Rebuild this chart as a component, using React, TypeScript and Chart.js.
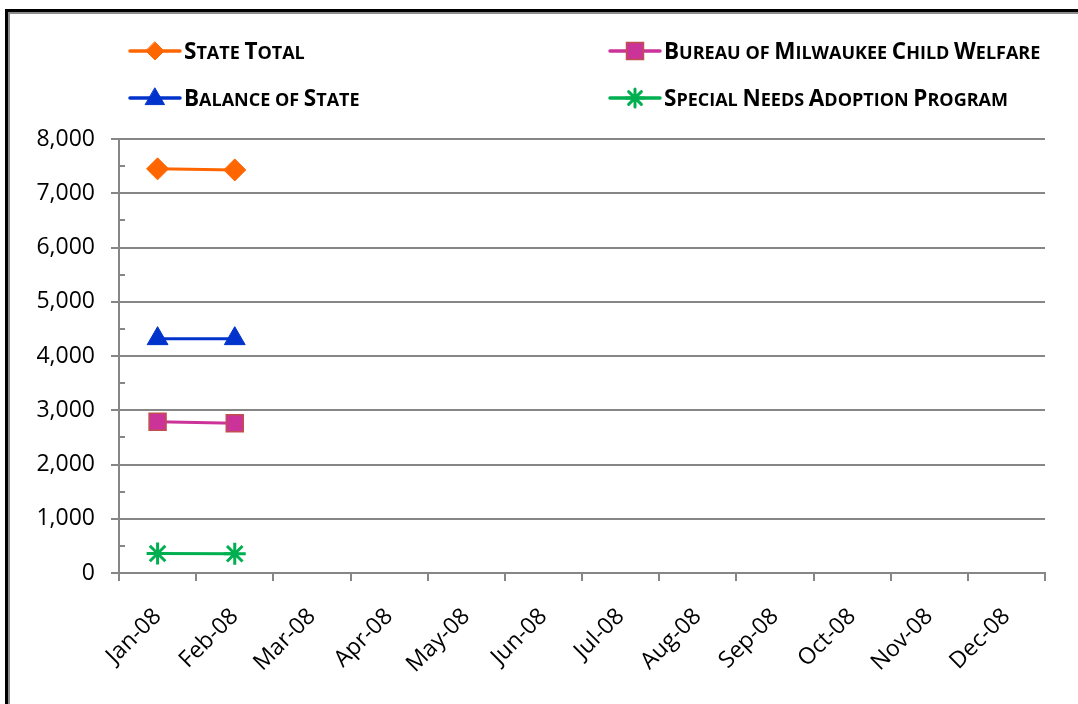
import React, { useEffect, useRef } from 'react';
import { Chart, registerables } from 'chart.js';

Chart.register(...registerables);

const months = ['Jan-08', 'Feb-08', 'Mar-08', 'Apr-08', 'May-08', 'Jun-08', 'Jul-08', 'Aug-08', 'Sep-08', 'Oct-08', 'Nov-08', 'Dec-08'];
const stateTotal = [7450, 7430];
const bureauMilwaukee = [2790, 2760];
const balanceOfState = [4320, 4320];
const specialNeeds = [360, 355];
const seriesNames = ['State Total', 'Bureau of Milwaukee Child Welfare', 'Balance of State', 'Special Needs Adoption Program'];
const yMin = 0;
const yMax = 8000;
const yStep = 1000;
const yMinorStep = 500;

const FONT = '"Open Sans", Lato, sans-serif';
const GRAY = '#868686';

type MarkerSpec = { style: string; radius: number; legendRadius: number; fill: string; stroke: string; borderWidth: number; line: string };

const markers: MarkerSpec[] = [
  { style: 'rectRot', radius: 11, legendRadius: 9, fill: '#FF6600', stroke: '#FF6600', borderWidth: 1, line: '#FF6600' },
  { style: 'rect', radius: 12, legendRadius: 12, fill: '#CC3399', stroke: '#C0504D', borderWidth: 1.5, line: '#CC3399' },
  { style: 'triangle', radius: 12, legendRadius: 11, fill: '#0033CC', stroke: '#0033CC', borderWidth: 1, line: '#0033CC' },
  { style: 'star', radius: 11, legendRadius: 9, fill: '#00B050', stroke: '#00B050', borderWidth: 3, line: '#00B050' },
];

function drawMarker(ctx: CanvasRenderingContext2D, m: MarkerSpec, x: number, y: number, r: number) {
  ctx.save();
  ctx.fillStyle = m.fill;
  ctx.strokeStyle = m.stroke;
  ctx.lineWidth = m.borderWidth;
  ctx.beginPath();
  if (m.style === 'rectRot') {
    ctx.moveTo(x, y - r);
    ctx.lineTo(x + r, y);
    ctx.lineTo(x, y + r);
    ctx.lineTo(x - r, y);
    ctx.closePath();
    ctx.fill();
    ctx.stroke();
  } else if (m.style === 'rect') {
    const h = Math.SQRT1_2 * r;
    ctx.rect(x - h, y - h, 2 * h, 2 * h);
    ctx.fill();
    ctx.stroke();
  } else if (m.style === 'triangle') {
    const w = r * Math.sqrt(3) / 2;
    ctx.moveTo(x, y - r * 0.9);
    ctx.lineTo(x + w, y + r * 0.6);
    ctx.lineTo(x - w, y + r * 0.6);
    ctx.closePath();
    ctx.fill();
    ctx.stroke();
  } else {
    const d = Math.SQRT1_2 * r;
    ctx.moveTo(x, y - r); ctx.lineTo(x, y + r);
    ctx.moveTo(x - r, y); ctx.lineTo(x + r, y);
    ctx.moveTo(x - d, y - d); ctx.lineTo(x + d, y + d);
    ctx.moveTo(x - d, y + d); ctx.lineTo(x + d, y - d);
    ctx.stroke();
  }
  ctx.restore();
}

// Small caps: letters that are capitals in the source are drawn large, the rest as smaller capitals
function drawSmallCaps(ctx: CanvasRenderingContext2D, text: string, x: number, y: number, big: number, small: number) {
  let cx = x;
  for (let k = 0; k < text.length; k++) {
    const ch = text[k];
    if (ch === ' ') {
      ctx.font = `bold ${big}px ${FONT}`;
      cx += ctx.measureText(' ').width * 0.8;
      continue;
    }
    const isBig = ch === ch.toUpperCase() && ch !== ch.toLowerCase();
    ctx.font = `bold ${isBig ? big : small}px ${FONT}`;
    const up = ch.toUpperCase();
    ctx.fillText(up, cx, y);
    cx += ctx.measureText(up).width;
  }
}

const legendCols = [130, 610];
const legendRows = [51, 98];

const framePlugin = {
  id: 'frame',
  beforeDraw(chart: any) {
    const ctx = chart.ctx as CanvasRenderingContext2D;
    const w = chart.width, h = chart.height;
    ctx.save();
    ctx.fillStyle = '#ffffff';
    ctx.fillRect(0, 0, w, h);
    ctx.fillStyle = '#000000';
    ctx.fillRect(5, 9, 3, h - 9);
    ctx.fillRect(5, 9, w - 5, 3);
    ctx.fillStyle = '#8c8c8c';
    ctx.fillRect(8, 12, 2, h - 12);
    ctx.fillRect(8, 12, w - 8, 2);
    ctx.restore();
  },
};

const minorTicksPlugin = {
  id: 'minorTicks',
  afterDatasetsDraw(chart: any) {
    const ctx = chart.ctx as CanvasRenderingContext2D;
    const ys = chart.scales.y;
    const left = chart.chartArea.left;
    ctx.save();
    ctx.strokeStyle = GRAY;
    ctx.lineWidth = 2;
    for (let v = yMin + yMinorStep; v < yMax; v += yStep) {
      const py = Math.round(ys.getPixelForValue(v));
      ctx.beginPath();
      ctx.moveTo(left, py);
      ctx.lineTo(left + 6, py);
      ctx.stroke();
    }
    ctx.restore();
  },
};

const legendPlugin = {
  id: 'customLegend',
  afterDraw(chart: any) {
    const ctx = chart.ctx as CanvasRenderingContext2D;
    ctx.save();
    chart.data.datasets.forEach((ds: any, i: number) => {
      const m = markers[i];
      const x0 = legendCols[i % 2];
      const y = legendRows[Math.floor(i / 2)];
      ctx.strokeStyle = m.line;
      ctx.lineWidth = 3.5;
      ctx.lineCap = 'round';
      ctx.beginPath();
      ctx.moveTo(x0, y);
      ctx.lineTo(x0 + 50, y);
      ctx.stroke();
      drawMarker(ctx, m, x0 + 25, y, m.legendRadius);
      ctx.fillStyle = '#000000';
      ctx.textAlign = 'left';
      ctx.textBaseline = 'alphabetic';
      drawSmallCaps(ctx, ds.label, x0 + 54, y + 8, 22.5, 18);
    });
    ctx.restore();
  },
};

export default function App() {
  const ref = useRef<HTMLCanvasElement | null>(null);
  useEffect(() => {
    if (!ref.current) return;
    const seriesData = [stateTotal, bureauMilwaukee, balanceOfState, specialNeeds];
    const chart = new Chart(ref.current, {
      type: 'line',
      data: {
        labels: months,
        datasets: seriesData.map((d, i) => ({
          label: seriesNames[i],
          data: d,
          borderColor: markers[i].line,
          backgroundColor: markers[i].fill,
          borderWidth: 3,
          pointStyle: markers[i].style as any,
          pointRadius: markers[i].radius,
          pointBackgroundColor: markers[i].fill,
          pointBorderColor: markers[i].stroke,
          pointBorderWidth: markers[i].borderWidth,
          tension: 0,
          fill: false,
        })),
      },
      options: {
        animation: false,
        responsive: true,
        maintainAspectRatio: false,
        layout: { padding: { left: 0, right: 33, top: 139, bottom: 0 } },
        plugins: {
          legend: { display: false },
          tooltip: { enabled: false },
          title: { display: false },
        },
        scales: {
          x: {
            type: 'category',
            offset: true,
            grid: {
              display: true,
              drawOnChartArea: false,
              drawTicks: true,
              tickLength: 8,
              offset: true,
              color: GRAY,
              lineWidth: 2,
            },
            border: { display: true, color: GRAY, width: 2 },
            ticks: {
              color: '#000000',
              font: { family: FONT, size: 23 },
              maxRotation: 45,
              minRotation: 45,
              padding: 22,
              autoSkip: false,
            },
            afterFit(scale: any) { scale.height = 131; },
          },
          y: {
            min: yMin,
            max: yMax,
            ticks: {
              stepSize: yStep,
              color: '#000000',
              font: { family: FONT, size: 23 },
              padding: 16,
              callback: (v: any) => Number(v).toLocaleString('en-US'),
            },
            grid: {
              color: GRAY,
              lineWidth: 2,
              tickLength: 8,
              drawTicks: true,
            },
            border: { display: true, color: GRAY, width: 2 },
            afterFit(scale: any) { scale.width = 119; },
          },
        },
      },
      plugins: [framePlugin, minorTicksPlugin, legendPlugin],
    });
    return () => chart.destroy();
  }, []);
  return (
    <div style={{ position: 'fixed', left: 0, top: 0, width: 1078, height: 704, background: '#fff' }}>
      <canvas ref={ref} />
    </div>
  );
}
